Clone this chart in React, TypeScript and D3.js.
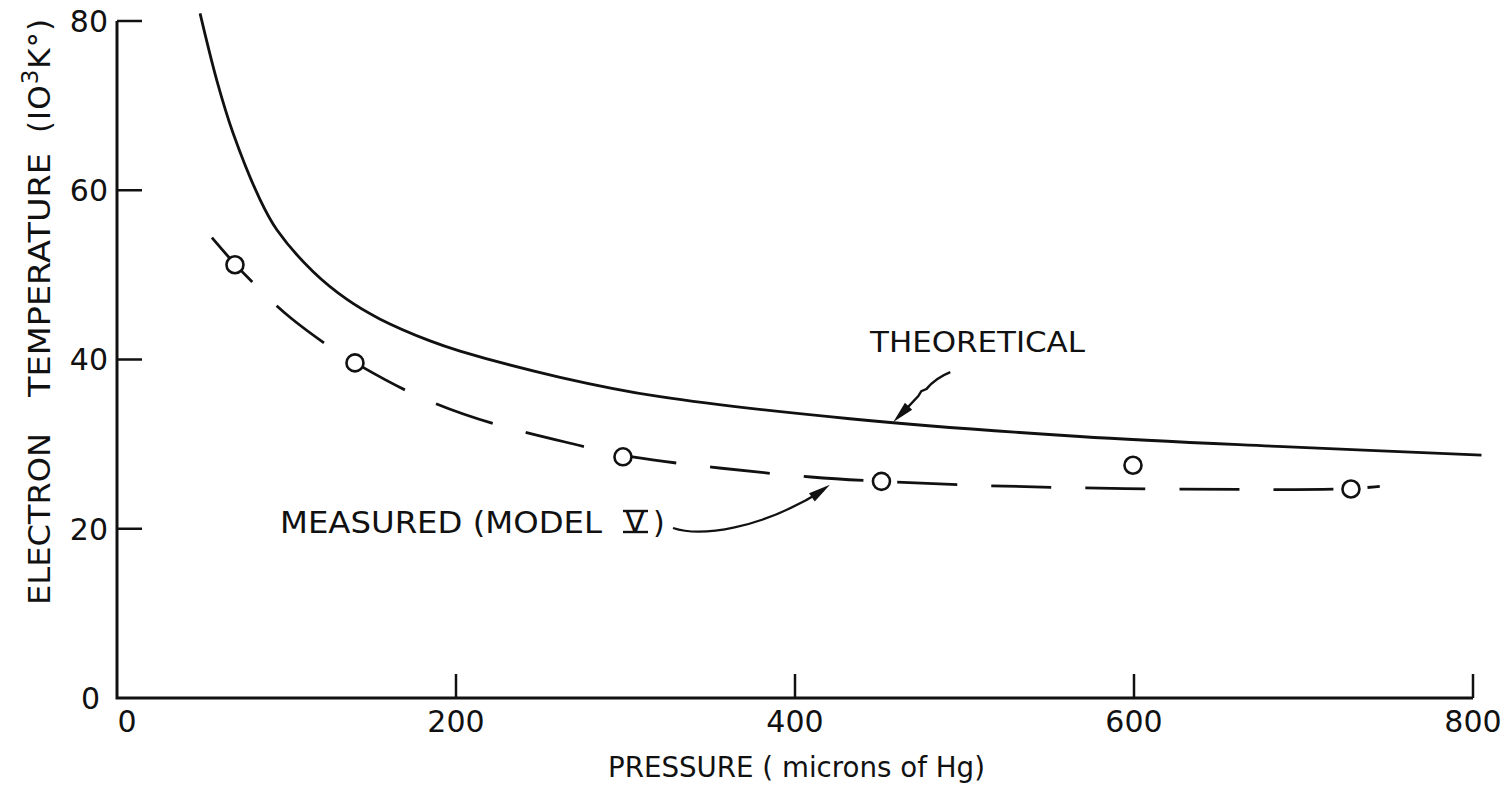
import React from "react";
import * as d3 from "d3";

// Electron temperature vs. pressure: theoretical curve, measured fit, measured points
const theoPressure = [49, 59, 68.4, 84.4, 94.4, 115.6, 135.7, 155, 184.7, 202.4, 261.4, 320.4, 432.4, 568, 688, 805];
const theoTemp = [80.9, 72.9, 66.8, 58.9, 55.3, 50.4, 47.1, 44.8, 42.2, 41.0, 37.9, 35.6, 33.0, 30.9, 29.7, 28.7];

const fitPressure = [56, 69.6, 86, 101, 128.6, 140.4, 174.6, 220, 279, 298.5, 357.5, 412, 451, 503, 592, 697, 728, 745];
const fitTemp = [54.4, 51.2, 47.9, 45.0, 41.0, 39.6, 35.7, 32.3, 29.6, 28.5, 27.1, 26.0, 25.6, 25.1, 24.7, 24.6, 24.7, 25.0];

const measPressure = [69.6, 140.4, 298.5, 451, 599.4, 728];
const measTemp = [51.2, 39.6, 28.5, 25.6, 27.5, 24.7];

const xTicks = [0, 200, 400, 600, 800];
const yTicks = [0, 20, 40, 60, 80];

// arrow tips for the two callouts, in data units
const theoArrowTip = [458, 32.6];
const measArrowTip = [420.6, 25.2];

const FONT = "'DejaVu Sans', 'Liberation Sans', sans-serif";
const INK = "#111";

export default function App() {
  const x = d3.scaleLinear().domain([0, 800]).range([117, 1473]);
  const y = d3.scaleLinear().domain([0, 80]).range([698, 21]);

  const smooth = d3
    .line<[number, number]>()
    .x((d) => x(d[0]))
    .y((d) => y(d[1]))
    .curve(d3.curveCatmullRom.alpha(0.5));

  const soft = d3
    .line<[number, number]>()
    .x((d) => x(d[0]))
    .y((d) => y(d[1]))
    .curve(d3.curveBasis);

  const theo = theoPressure.map((p, i) => [p, theoTemp[i]] as [number, number]);
  const fit = fitPressure.map((p, i) => [p, fitTemp[i]] as [number, number]);

  const tTip = [x(theoArrowTip[0]), y(theoArrowTip[1])];
  const mTip = [x(measArrowTip[0]), y(measArrowTip[1])];

  // arrowhead polygon pointing from (fx,fy) toward tip
  const head = (tx: number, ty: number, fx: number, fy: number, len = 20, half = 5) => {
    const a = Math.atan2(ty - fy, tx - fx);
    const bx = tx - len * Math.cos(a);
    const by = ty - len * Math.sin(a);
    const nx = -Math.sin(a) * half;
    const ny = Math.cos(a) * half;
    return `${tx},${ty} ${bx + nx},${by + ny} ${bx - nx},${by - ny}`;
  };

  const x0 = x(0);
  const y0 = y(0);

  return (
    <svg
      width={1505}
      height={794}
      style={{ position: "absolute", left: 0, top: 0, background: "#fff" }}
      fontFamily={FONT}
    >
      <rect width={1505} height={794} fill="#fff" />

      {/* axes */}
      <path
        d={`M${x0},${y(80)} L${x0},${y0} L${x(800)},${y0}`}
        fill="none"
        stroke={INK}
        strokeWidth={3}
      />
      {yTicks.map((t) => (
        <g key={"y" + t}>
          {t > 0 && (
            <line x1={x0} x2={x0 + 25} y1={y(t)} y2={y(t)} stroke={INK} strokeWidth={2.5} />
          )}
          <text
            x={t === 0 ? 100 : 108}
            y={y(t)}
            dy="0.36em"
            textAnchor="end"
            fontSize={30}
            fill={INK}
          >
            {t}
          </text>
        </g>
      ))}
      {xTicks.map((t) => (
        <g key={"x" + t}>
          {t > 0 && (
            <line x1={x(t)} x2={x(t)} y1={y0} y2={y0 - 24} stroke={INK} strokeWidth={2.5} />
          )}
          <text
            x={t === 0 ? x(t) + 10 : x(t)}
            y={732}
            textAnchor="middle"
            fontSize={30}
            fill={INK}
          >
            {t}
          </text>
        </g>
      ))}

      {/* axis titles */}
      <text x={608} y={777} fontSize={28} fill={INK} textLength={377} lengthAdjust="spacingAndGlyphs" style={{ whiteSpace: "pre" }}>
        PRESSURE ( microns of Hg)
      </text>
      <g transform="translate(50,0) rotate(-90)" fontSize={31} fill={INK}>
        <text x={-605} y={0} textLength={172} lengthAdjust="spacingAndGlyphs">ELECTRON</text>
        <text x={-397} y={0} textLength={244} lengthAdjust="spacingAndGlyphs">TEMPERATURE</text>
        <text x={-133} y={0} letterSpacing={1} style={{ whiteSpace: "pre" }}>
          (IO
          <tspan dy={-12} fontSize={23}>3</tspan>
          <tspan dy={12}>K°)</tspan>
        </text>
      </g>

      {/* theoretical curve */}
      <path d={smooth(theo) || ""} fill="none" stroke={INK} strokeWidth={2.8} />

      {/* measured fit, dashed */}
      <path
        d={soft(fit) || ""}
        fill="none"
        stroke={INK}
        strokeWidth={2.8}
        strokeDasharray="60 34"
      />

      {/* measured points */}
      {measPressure.map((p, i) => (
        <circle key={"m" + i} cx={x(p)} cy={y(measTemp[i])} r={8.5} fill="#fff" stroke={INK} strokeWidth={2.6} />
      ))}

      {/* THEORETICAL callout */}
      <text x={870} y={352} fontSize={28} fill={INK} textLength={215} lengthAdjust="spacingAndGlyphs">
        THEORETICAL
      </text>
      <path
        d={`M${tTip[0] + 57},${tTip[1] - 50} Q${tTip[0] + 42},${tTip[1] - 44} ${tTip[0] + 33},${tTip[1] - 33} L${tTip[0] + 28},${tTip[1] - 31} L${tTip[0] + 25},${tTip[1] - 26} L${tTip[0] + 8},${tTip[1] - 8}`}
        fill="none"
        stroke={INK}
        strokeWidth={2.4}
      />
      <polygon points={head(tTip[0], tTip[1], tTip[0] + 25, tTip[1] - 26, 22, 5)} fill={INK} />

      {/* MEASURED callout */}
      <text x={280} y={533} fontSize={30} fill={INK} textLength={322} lengthAdjust="spacingAndGlyphs">
        MEASURED (MODEL
      </text>
      <text x={635} y={532} fontSize={30} fill={INK} textAnchor="middle">
        V
      </text>
      <line x1={623} x2={648} y1={511} y2={511} stroke={INK} strokeWidth={2.4} />
      <line x1={623} x2={648} y1={532} y2={532} stroke={INK} strokeWidth={2.4} />
      <text x={653} y={533} fontSize={30} fill={INK}>
        )
      </text>
      <path
        d={`M673,528 C700,537 760,530 ${mTip[0] - 6},${mTip[1] + 5}`}
        fill="none"
        stroke={INK}
        strokeWidth={2.2}
      />
      <polygon points={head(mTip[0], mTip[1], mTip[0] - 20, mTip[1] + 14, 22, 5)} fill={INK} />
    </svg>
  );
}
